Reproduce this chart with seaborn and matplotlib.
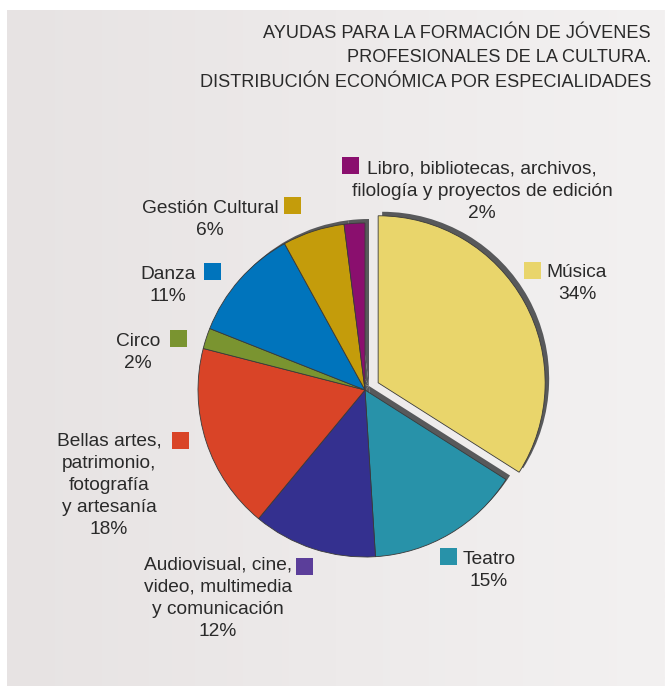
import numpy as np
import matplotlib
matplotlib.use("Agg")
import matplotlib.pyplot as plt
import seaborn as sns
from matplotlib.patches import Rectangle
from matplotlib.colors import LinearSegmentedColormap

# ── Data ──────────────────────────────────────────────────────────────────────
TITLE_LINES = [
    "AYUDAS PARA LA FORMACIÓN DE JÓVENES",
    "PROFESIONALES DE LA CULTURA.",
    "DISTRIBUCIÓN ECONÓMICA POR ESPECIALIDADES",
]
SPECIALTIES = [
    "Música",
    "Teatro",
    "Audiovisual, cine,\nvideo, multimedia\ny comunicación",
    "Bellas artes,\npatrimonio,\nfotografía\ny artesanía",
    "Circo",
    "Danza",
    "Gestión Cultural",
    "Libro, bibliotecas, archivos,\nfilología y proyectos de edición",
]
SHARES = [34, 15, 12, 18, 2, 11, 6, 2]
SLICE_COLORS = ["#E9D56B", "#2892A9", "#34308F", "#D94427",
                "#7A9430", "#0074BC", "#C49C0B", "#8A0F6E"]
KEY_COLORS = ["#E9D56B", "#2892A9", "#5B3E9A", "#D94427",
              "#7A9430", "#0074BC", "#C49C0B", "#8A0F6E"]

# ── Layout (pixels, measured from top-left) ───────────────────────────────────
W, H = 665, 686
CENTER = (365, 390)
RADIUS = 167
EXPLODE_PX = 15
SHADOW_OFF = (4, 4)
TEXT = "#2A2A2A"
SHADOW = "#58595B"
FS_TITLE = 13.1
FS = 13.8
STEP = 22

# block centre x, first baseline y, key square top-left
LABEL_POS = [
    (577, 277, (524, 262)),
    (489, 564, (440, 548)),
    (218, 570, (296, 558)),
    (109, 446, (172, 432)),
    (138, 346, (170, 330)),
    (168, 279, (204, 263)),
    (210, 213, (284, 197)),
    (482, 174, (342, 157)),
]


def ty(y):
    return H - y


sns.set_theme(style="white")
plt.rcParams["font.family"] = ["Liberation Sans", "DejaVu Sans"]

fig = plt.figure(figsize=(W / 100, H / 100), dpi=100)
fig.patch.set_facecolor("white")
ax = fig.add_axes([0, 0, 1, 1])

# background panel with soft horizontal gradient
bg = LinearSegmentedColormap.from_list("bg", ["#E7E3E3", "#F3F1F1"])
ax.imshow(np.linspace(0, 1, 256)[None, :], cmap=bg, aspect="auto",
          extent=[7, W, 0, ty(10)], zorder=0)

palette = sns.color_palette(SLICE_COLORS)
# pie explode is in data units (pixels here)
explode = [EXPLODE_PX] + [0] * (len(SHARES) - 1)

# shadow pie, offset up-right
ax.pie(SHARES, colors=[SHADOW] * len(SHARES), explode=explode,
       startangle=90, counterclock=False, radius=RADIUS,
       center=(CENTER[0] + SHADOW_OFF[0], ty(CENTER[1]) + SHADOW_OFF[1]),
       wedgeprops={"linewidth": 0, "zorder": 1})

# main pie
ax.pie(SHARES, colors=palette, explode=explode,
       startangle=90, counterclock=False, radius=RADIUS,
       center=(CENTER[0], ty(CENTER[1])),
       wedgeprops={"linewidth": 0.6, "edgecolor": "#3A3A3A", "zorder": 2})

# title, right aligned
for i, line in enumerate(TITLE_LINES):
    ax.text(651, ty(38 + 24.5 * i), line, ha="right", va="baseline",
            fontsize=FS_TITLE, color=TEXT)

# labels with colour keys
for name, share, key, (cx, by, (kx, ky)) in zip(
        SPECIALTIES, SHARES, KEY_COLORS, LABEL_POS):
    lines = name.split("\n") + [f"{share}%"]
    for j, line in enumerate(lines):
        ax.text(cx, ty(by + STEP * j), line, ha="center", va="baseline",
                fontsize=FS, color=TEXT)
    ax.add_patch(Rectangle((kx, ty(ky + 17)), 17, 17, facecolor=key,
                           edgecolor="none", zorder=3))

ax.set_xlim(0, W)
ax.set_ylim(0, H)
ax.set_aspect("auto")
ax.axis("off")

plt.savefig("out.png", dpi=100, facecolor="white")
plt.close()
